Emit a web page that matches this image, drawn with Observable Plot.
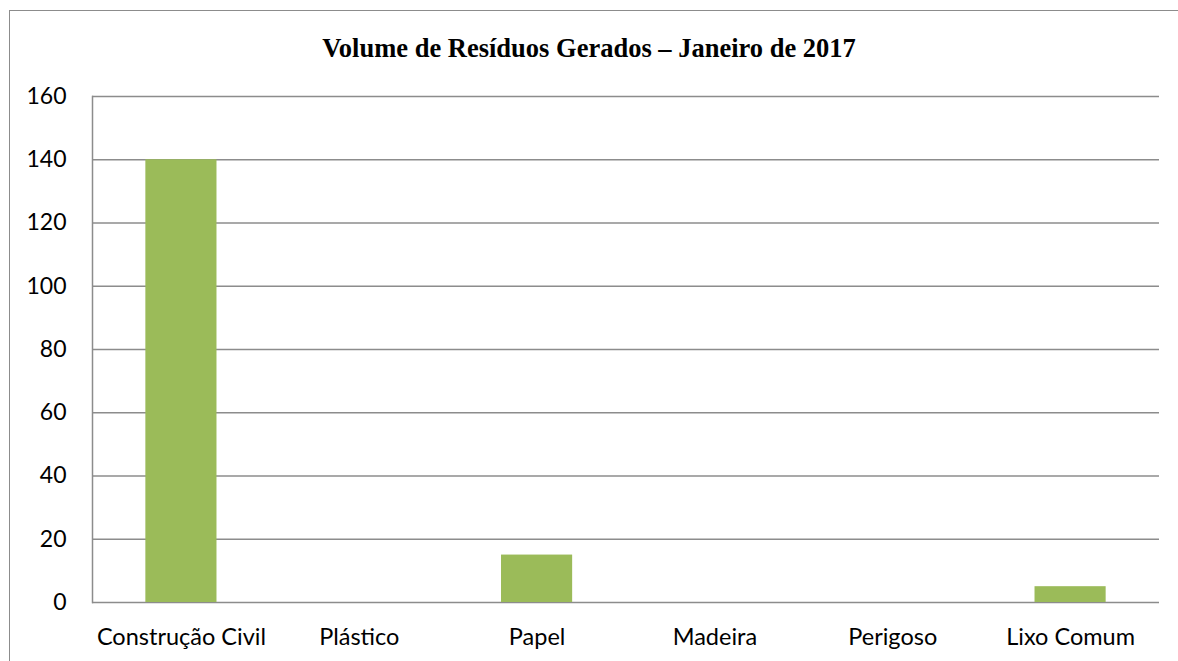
<!DOCTYPE html>
<html><head><meta charset="utf-8">
<script src="https://cdn.jsdelivr.net/npm/d3@7"></script>
<script src="https://cdn.jsdelivr.net/npm/@observablehq/plot@0.6"></script>
<style>
body{margin:0;background:#fff;}
#wrap{position:relative;width:1178px;height:661px;overflow:hidden;}
#frame{position:absolute;left:9px;top:10px;width:1180px;height:700px;border:1.5px solid #8c8c8c;box-sizing:border-box;}
#title{position:absolute;left:0;width:1178px;top:33px;text-align:center;font-family:"Liberation Serif","Times New Roman",serif;font-weight:bold;font-size:26.5px;color:#000;}
#chart{position:absolute;left:0;top:0;}
</style></head>
<body><div id="wrap"><div id="frame"></div><div id="title">Volume de Resíduos Gerados – Janeiro de 2017</div><div id="chart"></div></div>
<script>
const categories = ["Construção Civil","Plástico","Papel","Madeira","Perigoso","Lixo Comum"];
const values = [140, 0, 15, 0, 0, 5];
const yTicks = [0,20,40,60,80,100,120,140,160];
const data = categories.map((c,i)=>({cat:c, v:values[i]}));
const chart = Plot.plot({
  width:1178, height:661,
  marginLeft:92, marginRight:19, marginTop:96, marginBottom:59,
  style:{fontFamily:"Lato, sans-serif", fontSize:"23px", color:"#000", background:"transparent"},
  x:{domain:categories, paddingInner:0.6, paddingOuter:0.3, round:false, label:null},
  y:{domain:[0,160], ticks:yTicks, label:null},
  marks:[
    Plot.gridY(yTicks,{stroke:"#8c8c8c", strokeOpacity:1, strokeWidth:1.5}),
    Plot.frame({anchor:"left", stroke:"#8c8c8c", strokeOpacity:1, strokeWidth:1.5}),
    Plot.barY(data,{x:"cat", y:"v", fill:"#9BBB59"}),
    Plot.axisY(yTicks,{tickSize:0, tickPadding:26, fontSize:23, fill:"#000"}),
    Plot.axisX({tickSize:0, tickPadding:26, fontSize:23.5, fill:"#000"})
  ]
});
document.getElementById("chart").appendChild(chart);
</script></body></html>
